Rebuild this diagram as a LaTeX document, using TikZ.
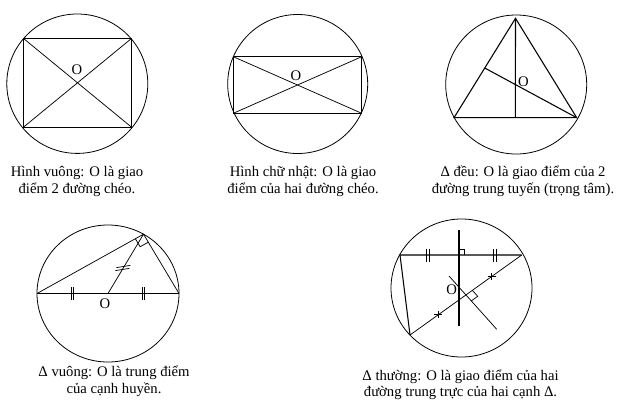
\documentclass[tikz,border=0pt]{standalone}
\usepackage{fontspec}
\setmainfont{Liberation Serif}
\usetikzlibrary{calc,positioning}

\tikzset{
  rim/.style={line width=0.6pt},
  thickline/.style={line width=0.8pt},
  thinline/.style={line width=0.55pt},
  lbl/.style={font=\fontsize{11}{12}\selectfont, inner sep=0pt},
  caption/.style={font=\fontsize{11}{12.3}\selectfont, align=center, anchor=base, inner sep=0pt},
  dtick/.pic={\draw[thinline] (-1.2,-6.5) -- (-1.2,6.5) (1.2,-6.5) -- (1.2,6.5);},
  ptick/.pic={\draw[thinline] (-4,0) -- (4,0) (0,-3.2) -- (0,3.2);}
}

\begin{document}
\begin{tikzpicture}[x=0.75pt, y=-0.75pt]
    \useasboundingbox (0,0) rectangle (627,408);

    % square
    \coordinate (c1) at (77.3,83.7);
    \draw[rim] (c1) ellipse [x radius=70.5, y radius=69.7];
    \coordinate (sqA) at (23.3,38.3);
    \coordinate (sqB) at (131.7,38.3);
    \coordinate (sqC) at (131.7,127.3);
    \coordinate (sqD) at (23.3,127.3);
    \draw[thickline] (sqA) -- (sqB) -- (sqC) -- (sqD) -- cycle;
    \draw[thinline] (sqA) -- (sqC) (sqB) -- (sqD);
    \node[lbl] (sqO) at (77,70) {O};
    \node[caption] (sqText) at (77,193) {Hình vuông: O là giao\\điểm 2 đường chéo.};

    % rectangle
    \coordinate (c2) at (297.7,84);
    \draw[rim] (c2) ellipse [x radius=70, y radius=69.5];
    \coordinate (reA) at (233.3,56.7);
    \coordinate (reB) at (361.7,56.7);
    \coordinate (reC) at (361.7,113.3);
    \coordinate (reD) at (233.3,113.3);
    \draw[thickline] (reA) -- (reB) -- (reC) -- (reD) -- cycle;
    \draw[thinline] (reA) -- (reC) (reB) -- (reD);
    \node[lbl] (reO) at (296,76) {O};
    \node[caption] (reText) at (303,193) {Hình chữ nhật: O là giao\\điểm của hai đường chéo.};

    % equilateral triangle
    \coordinate (c3) at (516.2,84.5);
    \draw[rim] (c3) ellipse [x radius=70.5, y radius=69.5];
    \coordinate (eqA) at (515.5,18.3);
    \coordinate (eqB) at (454,117.7);
    \coordinate (eqC) at (576.7,117.7);
    \draw[thickline] (eqA) -- (eqB) -- (eqC) -- cycle;
    \draw[thickline] (eqA) -- ($(eqB)!0.5!(eqC)$)
                     (eqC) -- ($(eqA)!0.5!(eqB)$);
    \node[lbl] (eqO) at (523.3,81.7) {O};
    \node[caption] (eqText) at (523,193) {Δ đều: O là giao điểm của 2\\đường trung tuyến (trọng tâm).};

    % right triangle
    \coordinate (c4) at (108,293.5);
    \draw[rim] (c4) ellipse [x radius=71, y radius=68.5];
    \coordinate (rtA) at ($(c4)+(180:71 and 68.5)$);
    \coordinate (rtB) at ($(c4)+(0:71 and 68.5)$);
    \coordinate (rtC) at ($(c4)+(-60:71 and 68.5)$);
    \draw[thickline] (rtA) -- (rtB);
    \draw[thinline] (rtA) -- (rtC) -- (rtB) (c4) -- (rtC);
    \coordinate (rtCA) at ($(rtC)!7pt!(rtA)$);
    \coordinate (rtCB) at ($(rtC)!7pt!(rtB)$);
    \draw[thinline] (rtCA) -- ($(rtCA)+(rtCB)-(rtC)$) -- (rtCB);
    \pic at ($(rtA)!0.5!(c4)$) {dtick};
    \pic at ($(c4)!0.5!(rtB)$) {dtick};
    \coordinate (rtM) at ($(c4)!0.42!(rtC)$);
    \draw[thinline] ($(rtM)+(-6.5,-1)$) -- ++(14,-2.2)
                    ($(rtM)+(-7.5,2)$) -- ++(14,-2.2);
    \node[lbl] (rtO) at (105,303.5) {O};
    \node[caption] (rtText) at (114,393) {Δ vuông: O là trung điểm\\của cạnh huyền.};

    % scalene triangle
    \coordinate (c5) at (461.5,288);
    \draw[rim] (c5) ellipse [x radius=70.5, y radius=69];
    \coordinate (scA) at (400,255);
    \coordinate (scB) at (521.7,255);
    \coordinate (scC) at (410,335);
    \draw[thickline] (scB) -- (scA) -- (scC);
    \draw[thinline] (scB) -- (scC);
    % perpendicular bisectors
    \coordinate (pbTop) at (459,230);
    \coordinate (pbBot) at (459,326);
    \coordinate (pbM) at (459,255);
    \draw[thickline] (pbTop) -- (pbBot);
    \coordinate (pbS) at (449,276);
    \coordinate (pbE) at (496.7,329.3);
    \coordinate (pbN) at ($(scB)!0.5!(scC)$);
    \draw[thinline] (pbS) -- (pbE);
    \coordinate (pbMB) at ($(pbM)!4pt!(scB)$);
    \coordinate (pbMT) at ($(pbM)!4pt!(pbTop)$);
    \draw[thinline] (pbMB) -- ($(pbMB)+(pbMT)-(pbM)$) -- (pbMT);
    \coordinate (pbNB) at ($(pbN)!6pt!(scB)$);
    \coordinate (pbNE) at ($(pbN)!6pt!(pbE)$);
    \draw[thinline] (pbNB) -- ($(pbNB)+(pbNE)-(pbN)$) -- (pbNE);
    \pic at ($(scA)!0.23!(scB)$) {dtick};
    \pic at ($(scA)!0.78!(scB)$) {dtick};
    \pic at ($(scB)!0.27!(scC)$) {ptick};
    \pic at ($(scB)!0.745!(scC)$) {ptick};
    \node[lbl] (scO) at (451.7,290) {O};
    \node[caption] (scText) at (460.5,396.7) {Δ thường: O là giao điểm của hai\\đường trung trực của hai cạnh Δ.};
\end{tikzpicture}
\end{document}
